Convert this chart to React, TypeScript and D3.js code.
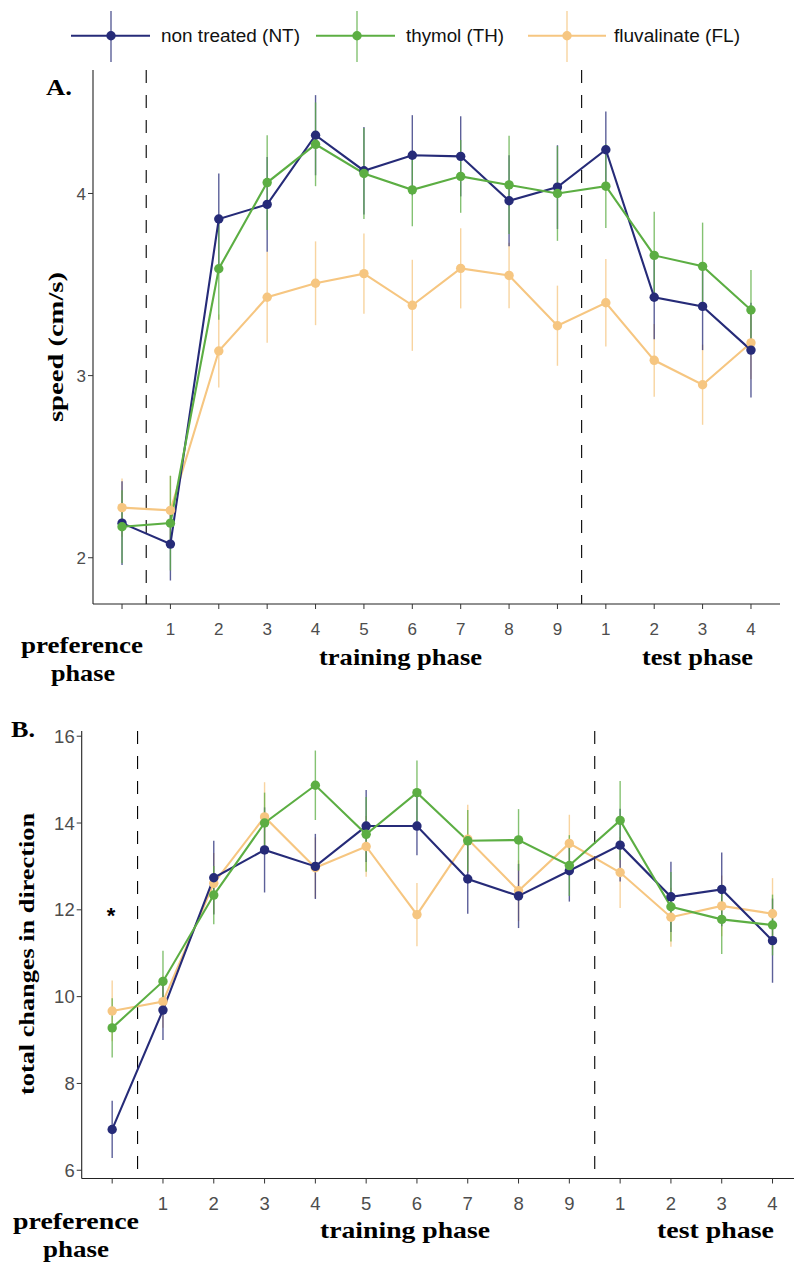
import React from "react";
import * as d3 from "d3";

const tickLabels = ["", "1", "2", "3", "4", "5", "6", "7", "8", "9", "1", "2", "3", "4"];

const seriesNames = ["non treated (NT)", "thymol (TH)", "fluvalinate (FL)"];
const seriesColors = ["#262b78", "#5cae43", "#f6c681"];

// Panel A: speed (cm/s)
const ntSpeed = [2.19, 2.075, 3.86, 3.94, 4.32, 4.125, 4.21, 4.204, 3.96, 4.035, 4.24, 3.43, 3.38, 3.14];
const thSpeed = [2.17, 2.19, 3.587, 4.06, 4.27, 4.11, 4.02, 4.094, 4.047, 4.0, 4.04, 3.66, 3.6, 3.36];
const flSpeed = [2.275, 2.26, 3.135, 3.43, 3.507, 3.56, 3.386, 3.589, 3.55, 3.274, 3.4, 3.084, 2.95, 3.18];
const ntSpeedSe = [0.23, 0.2, 0.25, 0.26, 0.22, 0.24, 0.22, 0.22, 0.25, 0.23, 0.21, 0.23, 0.24, 0.26];
const thSpeedSe = [0.2, 0.26, 0.28, 0.26, 0.23, 0.25, 0.2, 0.2, 0.27, 0.26, 0.23, 0.24, 0.24, 0.22];
const flSpeedSe = [0.16, 0.19, 0.2, 0.25, 0.23, 0.22, 0.25, 0.22, 0.18, 0.22, 0.24, 0.2, 0.22, 0.2];
const speedTicks = [2, 3, 4];

// Panel B: total changes in direction
const ntDir = [6.94, 9.69, 12.74, 13.38, 13.0, 13.93, 13.93, 12.71, 12.32, 12.9, 13.49, 12.3, 12.47, 11.29];
const thDir = [9.28, 10.35, 12.34, 14.0, 14.87, 13.74, 14.7, 13.59, 13.61, 13.02, 14.06, 12.07, 11.78, 11.65];
const flDir = [9.67, 9.885, 12.61, 14.14, 12.97, 13.46, 11.89, 13.63, 12.44, 13.53, 12.86, 11.83, 12.09, 11.91];
const ntDirSe = [0.66, 0.69, 0.85, 0.98, 0.75, 0.83, 0.67, 0.8, 0.74, 0.71, 0.84, 0.81, 0.85, 0.97];
const thDirSe = [0.68, 0.71, 0.67, 0.7, 0.8, 0.86, 0.74, 0.71, 0.71, 0.7, 0.91, 0.8, 0.8, 0.7];
const flDirSe = [0.7, 0.6, 0.7, 0.8, 0.7, 0.7, 0.73, 0.79, 0.7, 0.66, 0.82, 0.68, 0.7, 0.82];
const dirTicks = [6, 8, 10, 12, 14, 16];

const phaseBreaks = [0.5, 9.5];

const SERIF = "'Liberation Serif', 'Times New Roman', Times, serif";
const SANS = "'Liberation Sans', Arial, sans-serif";

type PanelProps = {
  means: number[][];
  ses: number[][];
  yTicks: number[];
  xRange: [number, number];
  yRange: [number, number];
  yDomain: [number, number];
  tickFont: number;
  tickLabelY: number;
};

function Panel({ means, ses, yTicks, xRange, yRange, yDomain, tickFont, tickLabelY }: PanelProps) {
  const x = d3.scaleLinear().domain([-0.6, 13.6]).range(xRange);
  const y = d3.scaleLinear().domain(yDomain).range(yRange);
  const idx = d3.range(tickLabels.length);
  const line = d3
    .line<number>()
    .x((_, i) => x(i))
    .y((v) => y(v));
  const order = [2, 0, 1];
  const x0 = xRange[0];
  const yBottom = yRange[0];
  return (
    <g>
      {phaseBreaks.map((b) => (
        <line
          key={b}
          x1={x(b)}
          x2={x(b)}
          y1={yRange[1]}
          y2={yBottom}
          stroke="#000"
          strokeWidth={1.1}
          strokeDasharray="13,12"
        />
      ))}
      {order.map((s) => (
        <g key={"e" + s} stroke={seriesColors[s]} strokeWidth={1.4} opacity={0.75}>
          {means[s].map((m, i) => (
            <line key={i} x1={x(i)} x2={x(i)} y1={y(m - ses[s][i])} y2={y(m + ses[s][i])} />
          ))}
        </g>
      ))}
      {order.map((s) => (
        <path key={"l" + s} d={line(means[s]) || ""} fill="none" stroke={seriesColors[s]} strokeWidth={2.1} />
      ))}
      {order.map((s) => (
        <g key={"p" + s} fill={seriesColors[s]}>
          {means[s].map((m, i) => (
            <circle key={i} cx={x(i)} cy={y(m)} r={4.7} />
          ))}
        </g>
      ))}
      {/* axes */}
      <line x1={x0} x2={xRange[1]} y1={yBottom} y2={yBottom} stroke="#222" strokeWidth={1.1} />
      <line x1={x0} x2={x0} y1={yRange[1]} y2={yBottom} stroke="#222" strokeWidth={1.1} />
      {yTicks.map((t) => (
        <g key={t}>
          <line x1={x0 - 5} x2={x0} y1={y(t)} y2={y(t)} stroke="#333" strokeWidth={1} />
          <text
            x={x0 - 7}
            y={y(t)}
            dy="0.36em"
            textAnchor="end"
            fontFamily={SANS}
            fontSize={tickFont}
            fill="#4d4d4d"
          >
            {t}
          </text>
        </g>
      ))}
      {idx.map((i) => (
        <g key={i}>
          <line x1={x(i)} x2={x(i)} y1={yBottom} y2={yBottom + 5} stroke="#333" strokeWidth={1} />
          <text x={x(i)} y={tickLabelY} textAnchor="middle" fontFamily={SANS} fontSize={tickFont} fill="#4d4d4d">
            {tickLabels[i]}
          </text>
        </g>
      ))}
    </g>
  );
}

function BoldText({ x, y, len, children, anchor = "start", rotate = false, size = 23 }: any) {
  return (
    <text
      x={rotate ? 0 : x}
      y={rotate ? 0 : y}
      transform={rotate ? `translate(${x},${y}) rotate(-90)` : undefined}
      textAnchor={anchor}
      fontFamily={SERIF}
      fontWeight="bold"
      fontSize={size}
      fill="#000"
      textLength={len}
      lengthAdjust="spacingAndGlyphs"
    >
      {children}
    </text>
  );
}

export default function App() {
  const legendItems = [
    { lx: 71, rx: 150, cx: 111, tx: 161, len: 139 },
    { lx: 316, rx: 395, cx: 357, tx: 406, len: 98 },
    { lx: 528, rx: 606, cx: 567, tx: 614, len: 126 },
  ];
  return (
    <svg width={794} height={1266} style={{ position: "absolute", left: 0, top: 0, background: "#fff" }}>
      <rect width={794} height={1266} fill="#fff" />
      {/* legend */}
      {legendItems.map((it, s) => (
        <g key={s}>
          <line x1={it.lx} x2={it.rx} y1={35.7} y2={35.7} stroke={seriesColors[s]} strokeWidth={2.1} />
          <line x1={it.cx} x2={it.cx} y1={11} y2={62} stroke={seriesColors[s]} strokeWidth={1.4} opacity={0.75} />
          <circle cx={it.cx} cy={35.7} r={4.7} fill={seriesColors[s]} />
          <text
            x={it.tx}
            y={35.7}
            dy="0.36em"
            fontFamily={SANS}
            fontSize={17.5}
            fill="#111"
            textLength={it.len}
            lengthAdjust="spacingAndGlyphs"
          >
            {seriesNames[s]}
          </text>
        </g>
      ))}

      {/* Panel A */}
      <Panel
        means={[ntSpeed, thSpeed, flSpeed]}
        ses={[ntSpeedSe, thSpeedSe, flSpeedSe]}
        yTicks={speedTicks}
        xRange={[93, 780]}
        yRange={[604, 70]}
        yDomain={[1.746, 4.678]}
        tickFont={17}
        tickLabelY={635}
      />
      <BoldText x={46} y={95} len={26}>A.</BoldText>
      <BoldText x={63} y={347} len={150} anchor="middle" rotate size={22}>speed (cm/s)</BoldText>
      <BoldText x={21} y={653} len={122}>preference</BoldText>
      <BoldText x={51} y={681} len={64}>phase</BoldText>
      <BoldText x={319} y={665} len={163}>training phase</BoldText>
      <BoldText x={642} y={665} len={111}>test phase</BoldText>

      {/* Panel B */}
      <Panel
        means={[ntDir, thDir, flDir]}
        ses={[ntDirSe, thDirSe, flDirSe]}
        yTicks={dirTicks}
        xRange={[81.7, 803]}
        yRange={[1178.5, 731]}
        yDomain={[5.81, 16.12]}
        tickFont={18.5}
        tickLabelY={1210}
      />
      <BoldText x={11} y={737} len={24}>B.</BoldText>
      <BoldText x={34} y={954} len={282} anchor="middle" rotate size={22}>total changes in direction</BoldText>
      <text x={111} y={923} textAnchor="middle" fontFamily={SANS} fontWeight="bold" fontSize={22} fill="#000">
        *
      </text>
      <BoldText x={13} y={1229} len={126}>preference</BoldText>
      <BoldText x={43} y={1257} len={66}>phase</BoldText>
      <BoldText x={320} y={1238} len={170}>training phase</BoldText>
      <BoldText x={657} y={1238} len={117}>test phase</BoldText>
    </svg>
  );
}
